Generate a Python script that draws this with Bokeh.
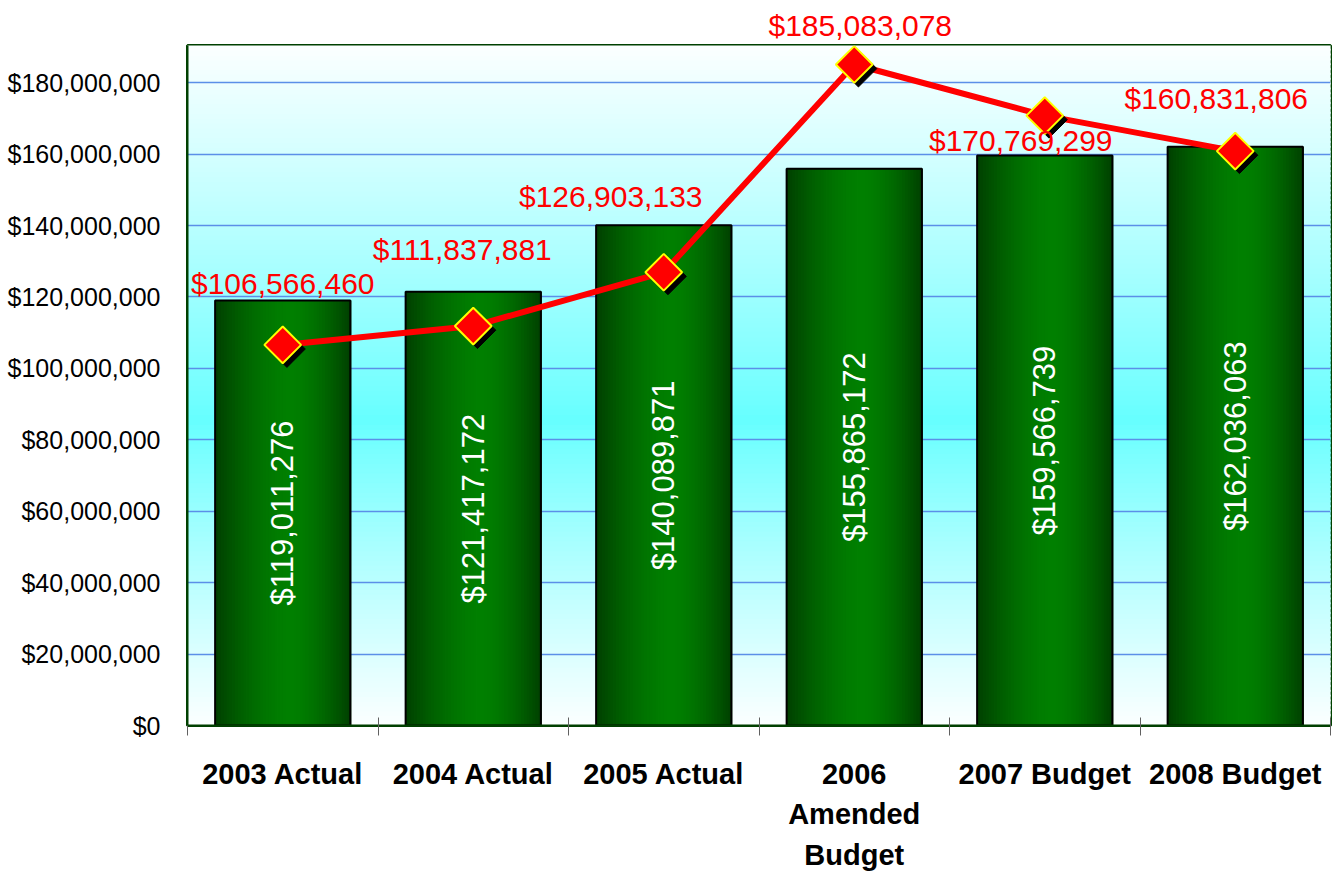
import numpy as np
from bokeh.plotting import figure
from bokeh.models import Range1d, FixedTicker, NumeralTickFormatter, ColumnDataSource, Label, Title
from bokeh.transform import dodge
from bokeh.core.properties import value
from bokeh.embed import file_html
from bokeh.resources import INLINE

# ---------------- data ----------------
categories = ["2003 Actual", "2004 Actual", "2005 Actual",
              "2006\nAmended\nBudget", "2007 Budget", "2008 Budget"]
bar_values = [119011276, 121417172, 140089871, 155865172, 159566739, 162036063]
line_values = [106566460, 111837881, 126903133, 185083078, 170769299, 160831806]
y_ticks = [0, 20000000, 40000000, 60000000, 80000000, 100000000,
           120000000, 140000000, 160000000, 180000000]

# ---------------- styling ----------------
label_dx = [0, -11, -53, 6, -24, -19]      # pixel offsets for red labels
label_dy = [61, 77, 76, 46, -25, 53]
Y_MAX = 190.4e6
BAR_W = 0.71
FONT = "Liberation Sans"
DARK_GREEN = "#004000"
FRAME_W, FRAME_H = 1143, 680
RED_SIZE = 30

n = len(categories)
centers = np.arange(n) + 0.5

p = figure(frame_width=FRAME_W, frame_height=FRAME_H,
           x_range=Range1d(0, n), y_range=Range1d(0, Y_MAX),
           output_backend="svg", toolbar_location=None,
           min_border_left=187, min_border_top=45, min_border_right=4,
           min_border_bottom=146)
p.background_fill_color = "white"
p.border_fill_color = "white"
p.outline_line_color = DARK_GREEN
p.outline_line_width = 3

# background vertical gradient (white -> cyan -> white)
nb = 140
edges = np.linspace(0, Y_MAX, nb + 1)
t = (edges[:-1] + edges[1:]) / 2 / Y_MAX
peak = 0.45
d = np.where(t > peak, (t - peak) / (1 - peak), (peak - t) / peak)
rch = (102 + 150 * d ** 0.9).clip(0, 252).astype(int)
bg_colors = ["#%02xffff" % r for r in rch]
p.quad(left=0, right=n, bottom=edges[:-1], top=edges[1:] + Y_MAX / nb * 0.3,
       fill_color=bg_colors, line_color=bg_colors, line_width=1, level="image")

# grid
p.xgrid.visible = False
p.ygrid.ticker = FixedTicker(ticks=y_ticks)
p.ygrid.grid_line_color = "#5b8fe8"
p.ygrid.grid_line_width = 1.5

# bars with horizontal gradient (strips)
ns = 48
lefts, rights, tops, cols = [], [], [], []
for k in range(ns):
    f = (k + 0.5) / ns
    dd = abs(f - 0.56) / 0.56 if f < 0.56 else (f - 0.56) / 0.44
    g = int(64 + 64 * (1 - dd ** 1.6))
    col = "#00%02x00" % g
    for i in range(n):
        lefts.append(centers[i] - BAR_W / 2 + k * BAR_W / ns)
        rights.append(centers[i] - BAR_W / 2 + (k + 1.3) * BAR_W / ns)
        tops.append(bar_values[i])
        cols.append(col)
p.quad(left=lefts, right=rights, bottom=0, top=tops, fill_color=cols, line_color=None)
p.vbar(x=centers, top=bar_values, width=BAR_W, fill_color=None,
       line_color="black", line_width=2)

# white value labels inside bars
p.text(x=centers, y=[v / 2 for v in bar_values],
       text=["${:,}".format(v) for v in bar_values],
       angle=np.pi / 2, text_color="white", text_font=value(FONT),
       text_font_size="31px", text_align="center", text_baseline="middle")

# red line with diamond markers
src = ColumnDataSource(dict(x=centers, y=line_values))
p.line("x", "y", source=src, line_color="red", line_width=6)
p.scatter(x=dodge("x", 0.022), y=dodge("y", -1.15e6), source=src, marker="square",
          angle=np.pi / 4, size=26, fill_color="black", line_color="black")
p.scatter("x", "y", source=src, marker="square", angle=np.pi / 4, size=26,
          fill_color="red", line_color="yellow", line_width=2)

# red value labels (labels that would fall above the frame go into the top panel)
for xc, v, dx, dy in zip(centers, line_values, label_dx, label_dy):
    txt = "${:,}".format(v)
    y_px = v / Y_MAX * FRAME_H + dy
    if y_px + RED_SIZE / 2 > FRAME_H:
        cx = xc / n * FRAME_W + dx
        width_est = len(txt) * 0.5097 * RED_SIZE
        p.add_layout(Title(text=txt, align="left", offset=cx - width_est / 2,
                           text_color="red", text_font=FONT,
                           text_font_size="%dpx" % RED_SIZE,
                           text_font_style="normal", standoff=8), "above")
    else:
        p.add_layout(Label(x=float(xc), y=v, text=txt,
                           x_offset=dx, y_offset=dy,
                           text_align="center", text_baseline="middle",
                           text_color="red", text_font=FONT,
                           text_font_size="%dpx" % RED_SIZE))

# x axis
xa = p.xaxis[0]
xa.ticker = FixedTicker(ticks=list(centers), minor_ticks=list(np.arange(n + 1).astype(float)))
xa.major_label_overrides = {float(c): lab for c, lab in zip(centers, categories)}
xa.major_tick_line_color = None
xa.major_tick_out = 10
xa.major_tick_in = 0
xa.minor_tick_line_color = "#606060"
xa.minor_tick_in = 8
xa.minor_tick_out = 10
xa.axis_line_color = DARK_GREEN
xa.axis_line_width = 2
xa.major_label_text_font = FONT
xa.major_label_text_font_style = "bold"
xa.major_label_text_font_size = "29px"
xa.major_label_text_line_height = 1.28
xa.major_label_text_color = "black"
xa.major_label_standoff = 22

# y axis
ya = p.yaxis[0]
ya.ticker = FixedTicker(ticks=y_ticks)
ya.formatter = NumeralTickFormatter(format="$0,0")
ya.major_tick_in = 0
ya.major_tick_out = 0
ya.minor_tick_line_color = None
ya.axis_line_color = DARK_GREEN
ya.axis_line_width = 2
ya.major_label_text_font = FONT
ya.major_label_text_font_size = "25px"
ya.major_label_text_color = "black"
ya.major_label_standoff = 27

open("out.html", "w").write(file_html(p, INLINE))
